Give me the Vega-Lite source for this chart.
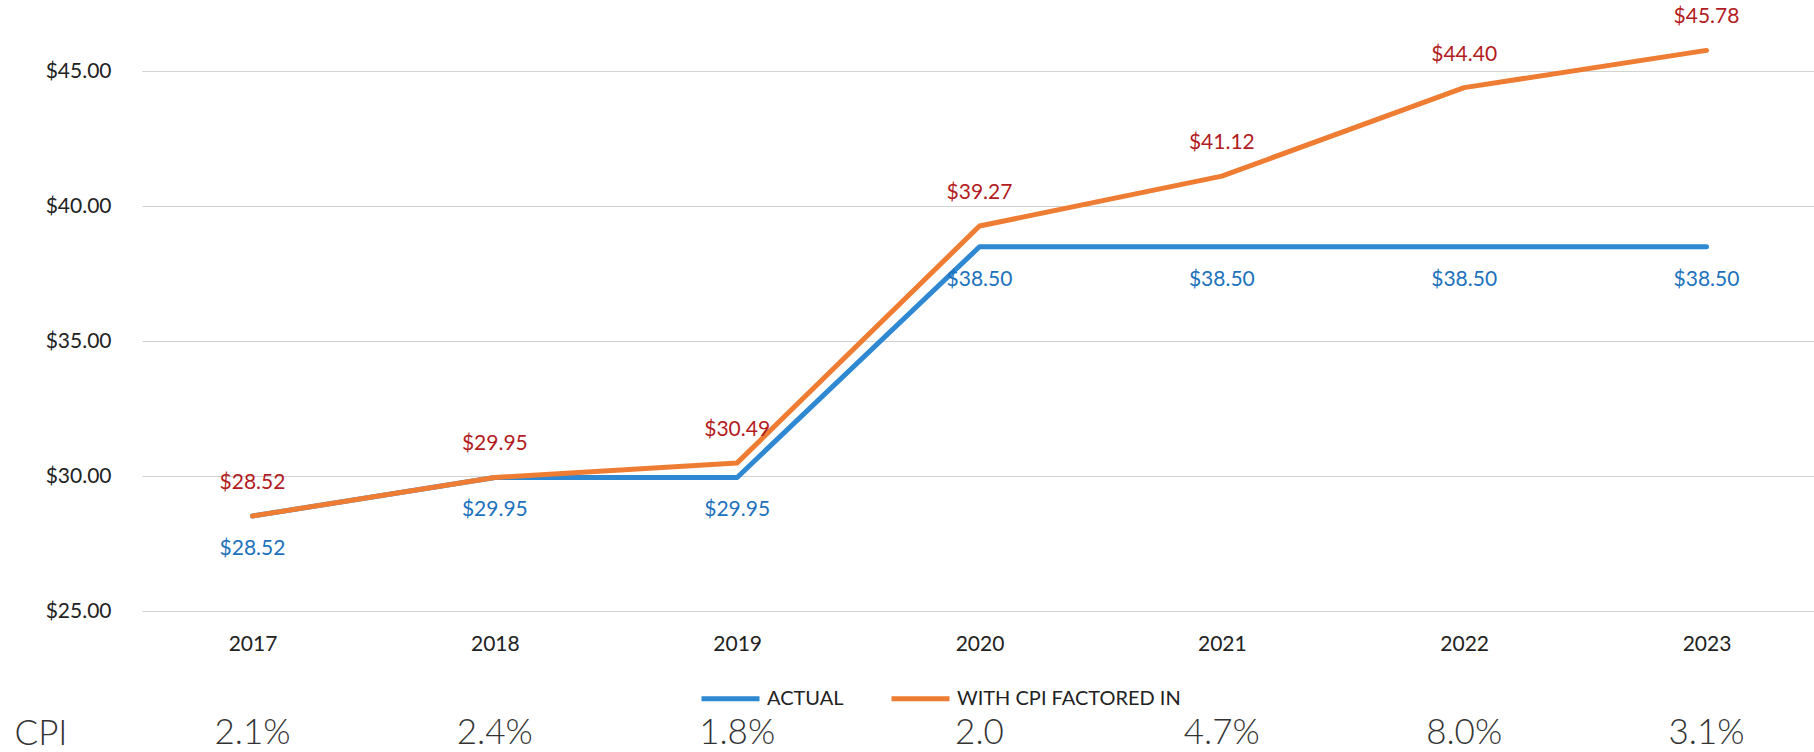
{
  "$schema": "https://vega.github.io/schema/vega-lite/v6.json",
  "padding": {"left": 13, "top": 4, "right": 0, "bottom": 0},
  "background": "white",
  "config": {
    "view": {"stroke": null},
    "font": "Lato",
    "concat": {"spacing": 62}
  },
  "datasets": {
    "prices": [
      {"year": "2017", "series": "ACTUAL", "value": 28.52},
      {"year": "2018", "series": "ACTUAL", "value": 29.95},
      {"year": "2019", "series": "ACTUAL", "value": 29.95},
      {"year": "2020", "series": "ACTUAL", "value": 38.50},
      {"year": "2021", "series": "ACTUAL", "value": 38.50},
      {"year": "2022", "series": "ACTUAL", "value": 38.50},
      {"year": "2023", "series": "ACTUAL", "value": 38.50},
      {"year": "2017", "series": "WITH CPI FACTORED IN", "value": 28.52},
      {"year": "2018", "series": "WITH CPI FACTORED IN", "value": 29.95},
      {"year": "2019", "series": "WITH CPI FACTORED IN", "value": 30.49},
      {"year": "2020", "series": "WITH CPI FACTORED IN", "value": 39.27},
      {"year": "2021", "series": "WITH CPI FACTORED IN", "value": 41.12},
      {"year": "2022", "series": "WITH CPI FACTORED IN", "value": 44.40},
      {"year": "2023", "series": "WITH CPI FACTORED IN", "value": 45.78}
    ],
    "cpi": [
      {"year": "2017", "row": "CPI", "cpi": "2.1%"},
      {"year": "2018", "row": "CPI", "cpi": "2.4%"},
      {"year": "2019", "row": "CPI", "cpi": "1.8%"},
      {"year": "2020", "row": "CPI", "cpi": "2.0"},
      {"year": "2021", "row": "CPI", "cpi": "4.7%"},
      {"year": "2022", "row": "CPI", "cpi": "8.0%"},
      {"year": "2023", "row": "CPI", "cpi": "3.1%"}
    ]
  },
  "vconcat": [
    {
      "width": 1675,
      "height": 607,
      "data": {"name": "prices"},
      "encoding": {
        "x": {
          "field": "year", "type": "ordinal",
          "scale": {"type": "point", "padding": 0.456},
          "axis": {"title": null, "labelAngle": 0, "labelFontSize": 21, "labelColor": "#222222", "labelPadding": 22, "ticks": false, "domain": false, "grid": false}
        },
        "y": {
          "field": "value", "type": "quantitative",
          "scale": {"domain": [25, 47.5], "nice": false, "zero": false},
          "axis": {"title": null, "values": [25, 30, 35, 40, 45], "format": "$.2f", "labelFontSize": 21, "labelColor": "#222222", "labelPadding": 31, "ticks": false, "domain": false, "gridColor": "#d2d2d2", "gridWidth": 1.2}
        }
      },
      "layer": [
        {
          "mark": {"type": "line", "strokeWidth": 5, "strokeCap": "round", "strokeJoin": "round"},
          "encoding": {
            "color": {
              "field": "series", "type": "nominal",
              "scale": {"domain": ["ACTUAL", "WITH CPI FACTORED IN"], "range": ["#2E88D2", "#EE7D33"]},
              "legend": {"title": null, "orient": "none", "legendX": 557, "legendY": 663, "direction": "horizontal", "symbolType": "stroke", "symbolStrokeWidth": 5, "symbolSize": 3364, "labelFontSize": 20, "labelColor": "#222222", "labelOffset": 5, "labelLimit": 500, "columnPadding": 37}
            }
          }
        },
        {
          "transform": [{"filter": "datum.series === 'ACTUAL'"}],
          "mark": {"type": "text", "dy": 33, "fontSize": 21, "color": "#1C72BC"},
          "encoding": {"text": {"field": "value", "type": "quantitative", "format": "$.2f"}}
        },
        {
          "transform": [{"filter": "datum.series !== 'ACTUAL'"}],
          "mark": {"type": "text", "dy": -33, "fontSize": 21, "color": "#B31B22"},
          "encoding": {"text": {"field": "value", "type": "quantitative", "format": "$.2f"}}
        }
      ]
    },
    {
      "width": 1675,
      "height": 34,
      "data": {"name": "cpi"},
      "mark": {"type": "text", "fontSize": 35, "fontWeight": 300, "color": "#333333"},
      "encoding": {
        "x": {"field": "year", "type": "ordinal", "scale": {"type": "point", "padding": 0.456}, "axis": null},
        "y": {"field": "row", "type": "nominal", "axis": {"title": null, "labelFontSize": 35, "labelFontWeight": 300, "labelColor": "#333333", "labelPadding": 75, "ticks": false, "domain": false, "grid": false}},
        "text": {"field": "cpi", "type": "nominal"}
      }
    }
  ]
}
